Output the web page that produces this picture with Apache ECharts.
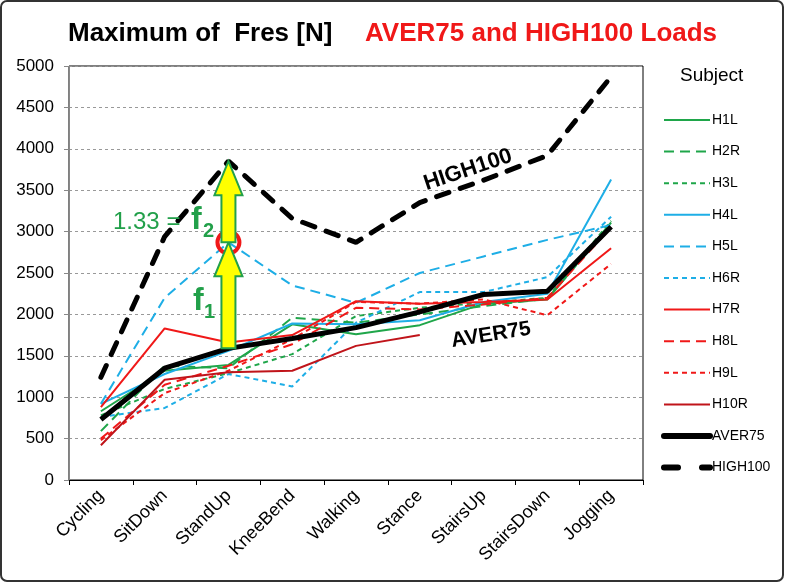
<!DOCTYPE html>
<html><head><meta charset="utf-8">
<script src="https://cdn.jsdelivr.net/npm/echarts@6/dist/echarts.min.js"></script>
<style>html,body{margin:0;padding:0;background:#fff}#c{width:785px;height:583px}</style>
</head><body><div id="c"></div>
<script>
const categories = ['Cycling','SitDown','StandUp','KneeBend','Walking','Stance','StairsUp','StairsDown','Jogging'];
const yTicks = [0,500,1000,1500,2000,2500,3000,3500,4000,4500,5000];
const H1L = [830, 1320, 1390, 1880, 1760, 1870, 2130, 2180, 3110];
const H2R = [590, 1380, 1350, 1960, 1900, 2000, 2100, 2190, 3080];
const H3L = [780, 1100, 1290, 1520, 1980, 2080, 2140, 2200, 3130];
const H4L = [920, 1280, 1560, 1890, 1880, 1930, 2150, 2250, 3630];
const H5L = [920, 2200, 2870, 2350, 2140, 2500, 2700, 2900, 3080];
const H6R = [760, 870, 1280, 1130, 1900, 2270, 2270, 2450, 3180];
const H7R = [880, 1830, 1660, 1750, 2160, 2130, 2150, 2180, 2800];
const H8L = [500, 1150, 1380, 1640, 2080, 2060, 2120, 2200, 3050];
const H9L = [480, 1050, 1320, 1700, 2150, 2130, 2180, 1990, 2610];
const H10R = [420, 1210, 1300, 1320, 1620, 1750, null, null, null];
const AVER75 = [730, 1350, 1590, 1710, 1840, 2030, 2240, 2280, 3060];
const HIGH100 = [1240, 2940, 3850, 3160, 2870, 3350, 3620, 3920, 4870];

const GREEN = '#1fa64a', CYAN = '#1eaee6', RED = '#f01818', DARKRED = '#c0141a';
const LONG = [10, 6], SHORT = [5, 4];
function s(name, data, color, type, width) {
  return { name, type: 'line', data, symbol: 'none', connectNulls: false,
    lineStyle: { color, width: width || 2, type: type || 'solid', cap: 'butt' },
    itemStyle: { color }, z: 3 };
}
const series = [
  s('H1L', H1L, GREEN), s('H2R', H2R, GREEN, LONG), s('H3L', H3L, GREEN, SHORT),
  s('H4L', H4L, CYAN), s('H5L', H5L, CYAN, LONG), s('H6R', H6R, CYAN, SHORT),
  s('H7R', H7R, RED), s('H8L', H8L, RED, LONG), s('H9L', H9L, RED, SHORT),
  s('H10R', H10R, DARKRED),
  Object.assign(s('AVER75', AVER75, '#000', 'solid', 5), {z: 4}),
  Object.assign(s('HIGH100', HIGH100, '#000', [13, 12], 5), {z: 4})
];
series[11].lineStyle.cap = 'round';

const legendData = series.map(x => {
  if (x.name === 'AVER75') return { name: x.name, lineStyle: { width: 6, cap: 'round' } };
  if (x.name === 'HIGH100') return { name: x.name, lineStyle: { width: 6, cap: 'round', type: [14, 24] } };
  return { name: x.name };
});

const chart = echarts.init(document.getElementById('c'));
chart.setOption({
  animation: false,
  backgroundColor: '#fff',
  textStyle: { fontFamily: 'Liberation Sans, Arial, sans-serif' },
  grid: { left: 69, right: 142, top: 66, bottom: 103, show: true, borderColor: '#000', borderWidth: 1 },
  xAxis: { type: 'category', data: categories, boundaryGap: true,
    axisLine: { lineStyle: { color: '#000', width: 1 } },
    axisTick: { show: true, length: 5, lineStyle: { color: '#000' } },
    axisLabel: { rotate: 45, fontSize: 18, color: '#000', margin: 13 } },
  yAxis: { type: 'value', min: 0, max: 5000, interval: 500,
    axisLine: { show: true, lineStyle: { color: '#888', width: 1 } },
    axisTick: { show: true, length: 5, lineStyle: { color: '#888' } },
    axisLabel: { fontSize: 17, color: '#000', margin: 15, formatter: v => String(v) },
    splitLine: { lineStyle: { color: '#999', type: [3, 3] } } },
  legend: { orient: 'vertical', left: 656, top: 108, itemWidth: 46, itemHeight: 14, itemGap: 17.6,
    itemStyle: { opacity: 0 },
    textStyle: { fontSize: 14, color: '#000', fontFamily: 'Liberation Sans, sans-serif', padding: [0, 0, 0, -3] },
    data: legendData },
  series
});

function arrow(x, y0, y1) {
  const sw = 7, hw = 14, hh = Math.min(34, (y0 - y1) * 0.45);
  return [[x - sw, y0], [x + sw, y0], [x + sw, y1 + hh], [x + hw, y1 + hh], [x, y1], [x - hw, y1 + hh], [x - sw, y1 + hh]];
}
const idx = 2;
const pA = chart.convertToPixel({ gridIndex: 0 }, [idx, AVER75[idx]]);
const pM = chart.convertToPixel({ gridIndex: 0 }, [idx, H5L[idx]]);
const pH = chart.convertToPixel({ gridIndex: 0 }, [idx, HIGH100[idx]]);
const ax = pA[0];
const bold = 'Liberation Sans, Arial, sans-serif';
chart.setOption({
  graphic: [
    { type: 'rect', shape: { x: 1, y: 1, width: 782, height: 580, r: 6 }, style: { fill: null, stroke: '#333', lineWidth: 2 }, z: 100, silent: true },
    { type: 'text', left: 68, top: 21, style: { text: 'Maximum of  Fres [N]', font: 'bold 26px ' + bold, fill: '#000' } },
    { type: 'text', left: 365, top: 21, style: { text: 'AVER75 and HIGH100 Loads', font: 'bold 26px ' + bold, fill: '#f01818' } },
    { type: 'text', left: 680, top: 66, style: { text: 'Subject', font: '19px Liberation Sans, sans-serif', fill: '#000' } },
    { type: 'circle', shape: { cx: ax, cy: pM[1], r: 11 }, style: { fill: null, stroke: '#f01818', lineWidth: 4 }, z: 50 },
    { type: 'polygon', shape: { points: arrow(ax, pA[1], pM[1]) }, style: { fill: '#ffff00', stroke: '#22a04a', lineWidth: 2 }, z: 51 },
    { type: 'polygon', shape: { points: arrow(ax, pM[1], pH[1]) }, style: { fill: '#ffff00', stroke: '#22a04a', lineWidth: 2 }, z: 51 },
    { type: 'text', x: 113, y: 210, style: { text: '1.33 =', font: '24px Liberation Sans, sans-serif', fill: '#22a04a' }, z: 52 },
    { type: 'text', x: 191, y: 204, style: { text: 'f', font: 'bold 32px Liberation Sans, sans-serif', fill: '#22a04a' }, z: 52 },
    { type: 'text', x: 203, y: 221, style: { text: '2', font: 'bold 20px Liberation Sans, sans-serif', fill: '#22a04a' }, z: 52 },
    { type: 'text', x: 193, y: 285, style: { text: 'f', font: 'bold 32px Liberation Sans, sans-serif', fill: '#22a04a' }, z: 52 },
    { type: 'text', x: 204, y: 302, style: { text: '1', font: 'bold 20px Liberation Sans, sans-serif', fill: '#22a04a' }, z: 52 },
    { type: 'text', x: 468, y: 170, rotation: 18.5 * Math.PI / 180, style: { text: 'HIGH100', font: 'bold 22px Liberation Sans, sans-serif', fill: '#000', align: 'center', verticalAlign: 'middle' }, z: 52 },
    { type: 'text', x: 491, y: 335, rotation: 9 * Math.PI / 180, style: { text: 'AVER75', font: 'bold 21px Liberation Sans, sans-serif', fill: '#000', align: 'center', verticalAlign: 'middle' }, z: 52 }
  ]
});
</script></body></html>
